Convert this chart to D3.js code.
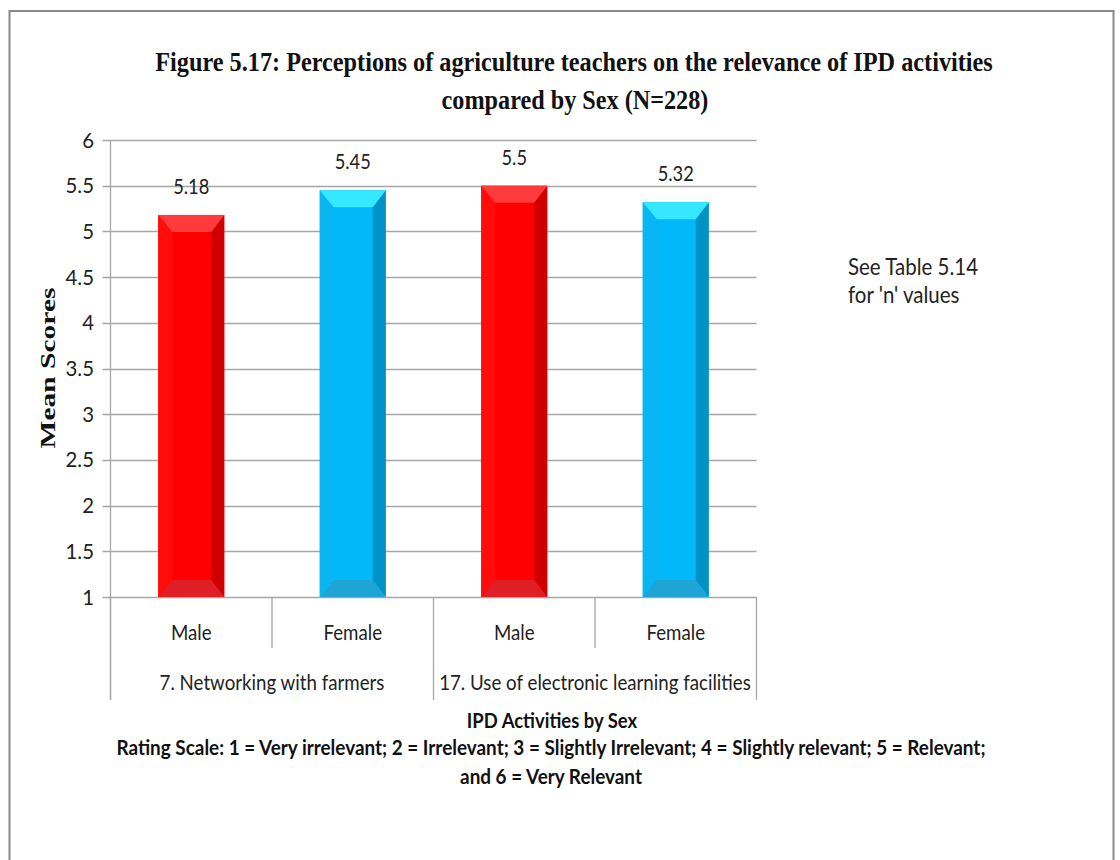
<!DOCTYPE html>
<html>
<head>
<meta charset="utf-8">
<script src="https://cdn.jsdelivr.net/npm/d3@7"></script>
<style>
  html, body { margin: 0; padding: 0; background: #fff; }
  svg { display: block; }
</style>
</head>
<body>
<script>
// ---- data ----
const groups = ["7. Networking with farmers", "17. Use of electronic learning facilities"];
const sexes = ["Male", "Female"];
const values = [5.18, 5.45, 5.5, 5.32];           // order: g1 Male, g1 Female, g2 Male, g2 Female
const valueLabels = ["5.18", "5.45", "5.5", "5.32"];
const yTicks = [1, 1.5, 2, 2.5, 3, 3.5, 4, 4.5, 5, 5.5, 6];
const titleLines = ["Figure 5.17: Perceptions of agriculture teachers on the relevance of IPD activities",
                    "compared by Sex (N=228)"];
const yTitle = "Mean Scores";
const xTitle = "IPD Activities by Sex";
const noteLines = ["Rating Scale: 1 = Very irrelevant; 2 = Irrelevant; 3 = Slightly Irrelevant; 4 = Slightly relevant; 5 = Relevant;",
                   "and 6 = Very Relevant"];
const sideNote = ["See Table 5.14", "for 'n' values"];

const W = 1120, H = 860;
const svg = d3.select("body").append("svg").attr("width", W).attr("height", H);

// outer frame
svg.append("rect").attr("x", 9.5).attr("y", 11).attr("width", 1104).attr("height", 900)
  .attr("fill", "none").attr("stroke", "#888").attr("stroke-width", 2);

const pL = 110.5, pR = 756.5, pT = 140, pB = 597;
const cats = [];
groups.forEach((g, gi) => sexes.forEach((s, si) => cats.push({g, s, key: gi + "-" + si, v: values[gi * 2 + si], lab: valueLabels[gi * 2 + si], si})));

const x = d3.scaleBand().domain(cats.map(d => d.key)).range([pL, pR]).paddingInner(0).paddingOuter(0);
const y = d3.scaleLinear().domain([1, 6]).range([pB, pT]);

const sans = "Lato, 'Open Sans', sans-serif";
const serif = "'Liberation Serif', 'Times New Roman', serif";
function condense(sel, k) {
  sel.each(function() {
    const w = this.getComputedTextLength();
    d3.select(this).attr("textLength", w * k).attr("lengthAdjust", "spacingAndGlyphs");
  });
}
// horizontally scale a text (placed at 0,0 inside a group) so it spans targetW
function fitGroup(g, targetW, cx, cy, rotate) {
  const t = g.select("text").node();
  const w = t.getComputedTextLength();
  const s = targetW / w;
  g.attr("transform", `translate(${cx},${cy})` + (rotate ? ` rotate(${rotate})` : "") + ` scale(${s},1)`);
}

// gridlines
svg.append("g").selectAll("line").data(yTicks).join("line")
  .attr("x1", pL - 8).attr("x2", pR)
  .attr("y1", d => Math.round(y(d)) + 0.5).attr("y2", d => Math.round(y(d)) + 0.5)
  .attr("stroke", "#a6a6a6").attr("stroke-width", 1.3);

// y axis line
svg.append("line").attr("x1", pL).attr("x2", pL).attr("y1", pT).attr("y2", pB + 103)
  .attr("stroke", "#a6a6a6").attr("stroke-width", 1.3);
// y tick labels
svg.append("g").selectAll("text").data(yTicks).join("text")
  .attr("x", 94).attr("y", d => y(d) + 7.5)
  .attr("text-anchor", "end").attr("font-family", sans).attr("font-size", 21).attr("fill", "#222")
  .text(d => d3.format("")(d)).call(condense, 0.97);

// x category separators
const sepX = [pL];
cats.forEach(d => sepX.push(x(d.key) + x.bandwidth()));
svg.append("g").selectAll("line").data(sepX).join("line")
  .attr("x1", d => d).attr("x2", d => d).attr("y1", pB)
  .attr("y2", (d, i) => (i % 2 === 0 ? pB + 103 : pB + 51))
  .attr("stroke", "#a6a6a6").attr("stroke-width", 1.3);

// bars with bevel
const colors = [
  {front: "#fe0000", top: "#ff3a3a", right: "#d10000", left: "#ff0d0d", bottom: "#df1f25"},
  {front: "#02b8f8", top: "#36e8ff", right: "#0092c6", left: "#0ab6f2", bottom: "#1ea5d6"}
];
const bw = 66, bev = 14, bevV = 17;
const bars = svg.append("g").selectAll("g").data(cats).join("g");
bars.each(function(d) {
  const c = colors[d.si];
  const cx = x(d.key) + x.bandwidth() / 2;
  const x0 = cx - bw / 2, x1 = cx + bw / 2, y0 = y(d.v), y1 = y(1);
  const g = d3.select(this);
  g.append("rect").attr("x", x0).attr("y", y0).attr("width", bw).attr("height", y1 - y0).attr("fill", c.front);
  const poly = pts => pts.map(p => p.join(",")).join(" ");
  g.append("polygon").attr("points", poly([[x0, y0], [x0 + bev, y0 + bevV], [x0 + bev, y1 - bevV], [x0, y1]])).attr("fill", c.left);
  g.append("polygon").attr("points", poly([[x1, y0], [x1 - bev + 1, y0 + bevV], [x1 - bev + 1, y1 - bevV], [x1, y1]])).attr("fill", c.right);
  g.append("polygon").attr("points", poly([[x0, y0], [x1, y0], [x1 - bev + 1, y0 + bevV], [x0 + bev, y0 + bevV]])).attr("fill", c.top);
  g.append("polygon").attr("points", poly([[x0, y1], [x1, y1], [x1 - bev + 1, y1 - bevV], [x0 + bev, y1 - bevV]])).attr("fill", c.bottom);
});

// value labels
svg.append("g").selectAll("text").data(cats).join("text")
  .attr("x", d => x(d.key) + x.bandwidth() / 2).attr("y", d => y(d.v) - 21)
  .attr("text-anchor", "middle").attr("font-family", sans).attr("font-size", 21).attr("fill", "#222")
  .text(d => d.lab).call(condense, 0.87);

// category labels
svg.append("g").selectAll("text").data(cats).join("text")
  .attr("x", d => x(d.key) + x.bandwidth() / 2).attr("y", 640)
  .attr("text-anchor", "middle").attr("font-family", sans).attr("font-size", 22).attr("fill", "#222")
  .text(d => d.s).call(condense, 0.85);

// group labels
svg.append("g").selectAll("text").data(groups).join("text")
  .attr("x", (d, i) => (x(i + "-0") + x(i + "-1") + x.bandwidth()) / 2).attr("y", 690)
  .attr("text-anchor", "middle").attr("font-family", sans).attr("font-size", 22).attr("fill", "#222")
  .text(d => d).call(condense, 0.85);

// title (scaled horizontally via transform)
const tWidths = [838, 267], tPos = [[574, 71], [575, 109]];
titleLines.forEach((line, i) => {
  const g = svg.append("g");
  g.append("text").attr("x", 0).attr("y", 0).attr("text-anchor", "middle")
    .attr("font-family", serif).attr("font-weight", "bold").attr("font-size", 28).attr("fill", "#111")
    .text(line);
  fitGroup(g, tWidths[i], tPos[i][0], tPos[i][1]);
});

// y title
{
  const g = svg.append("g");
  g.append("text").attr("x", 0).attr("y", 0).attr("text-anchor", "middle")
    .attr("font-family", serif).attr("font-weight", "bold").attr("font-size", 21).attr("fill", "#111")
    .text(yTitle);
  fitGroup(g, 161, 55, 368, -90);
}

// side note
svg.append("g").selectAll("text").data(sideNote).join("text")
  .attr("x", 848).attr("y", (d, i) => 275 + i * 28)
  .attr("font-family", sans).attr("font-size", 23).attr("fill", "#222")
  .text(d => d).call(condense, 0.89);

// x title and notes
svg.append("text").attr("x", 552).attr("y", 728).attr("text-anchor", "middle")
  .attr("font-family", sans).attr("font-weight", "bold").attr("font-size", 20.5).attr("fill", "#111")
  .text(xTitle).call(condense, 0.9);
svg.append("g").selectAll("text").data(noteLines).join("text")
  .attr("x", 551).attr("y", (d, i) => 755 + i * 29).attr("text-anchor", "middle")
  .attr("font-family", sans).attr("font-weight", "bold").attr("font-size", 21).attr("fill", "#111")
  .text(d => d).call(condense, 0.9);
</script>
</body>
</html>
